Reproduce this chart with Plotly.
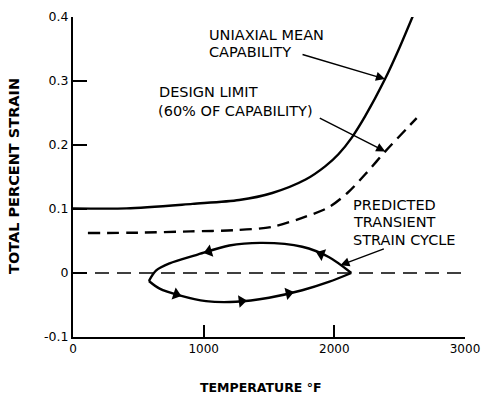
import numpy as np
import plotly.graph_objects as go

# ---------------- data ----------------
temp_capability = [0, 411, 914, 1272, 1525, 1780, 1932, 2033, 2135, 2236, 2388, 2490, 2604]
strain_capability = [0.101, 0.101, 0.108, 0.114, 0.125, 0.146, 0.167, 0.186, 0.212, 0.245, 0.303, 0.348, 0.403]

temp_design = [114, 500, 900, 1250, 1520, 1780, 1960, 2100, 2240, 2390, 2630]
strain_design = [0.0625, 0.063, 0.065, 0.067, 0.072, 0.088, 0.103, 0.125, 0.155, 0.190, 0.242]

temp_zero = [0, 3000]
strain_zero = [0, 0]

# predicted transient strain cycle (upper branch: right -> left)
temp_cycle_upper = [2130, 1957, 1754, 1450, 1196, 942, 739, 637, 581]
strain_cycle_upper = [0.0, 0.025, 0.041, 0.047, 0.043, 0.028, 0.015, 0.004, -0.0125]
# lower branch: left -> right
temp_cycle_lower = [581, 663, 815, 1018, 1247, 1500, 1754, 1957, 2130]
strain_cycle_lower = [-0.0125, -0.0245, -0.035, -0.044, -0.045, -0.0386, -0.027, -0.014, 0.0]

x_tickvals = [0, 1000, 2000, 3000]
x_ticktext = ["0", "1000", "2000", "3000"]
y_tickvals = [-0.1, 0, 0.1, 0.2, 0.3, 0.4]
y_ticktext = ["-0.1", "0", "0.1", "0.2", "0.3", "0.4"]

# ---------------- layout constants ----------------
W, H = 481, 397
L, R, T, B = 73, 16, 17, 60
PW, PH = W - L - R, H - T - B
FONT = "DejaVu Sans"


def px_x(x):
    return (x - L) / PW


def px_y(y):
    return (H - B - y) / PH


LW = 2.4
fig = go.Figure()

fig.add_trace(go.Scatter(x=temp_zero, y=strain_zero, mode="lines",
                         line=dict(color="black", width=1.3, dash="14px,8px")))
fig.add_trace(go.Scatter(x=temp_capability, y=strain_capability, mode="lines",
                         line=dict(color="black", width=LW, shape="spline", smoothing=0.8)))
fig.add_trace(go.Scatter(x=temp_design, y=strain_design, mode="lines",
                         line=dict(color="black", width=LW, dash="12px,7px", shape="spline", smoothing=0.8)))
fig.add_trace(go.Scatter(x=temp_cycle_upper, y=strain_cycle_upper, mode="lines",
                         line=dict(color="black", width=LW, shape="spline", smoothing=0.9)))
fig.add_trace(go.Scatter(x=temp_cycle_lower, y=strain_cycle_lower, mode="lines",
                         line=dict(color="black", width=LW, shape="spline", smoothing=0.9)))

# arrowheads along the cycle (positions along each branch, in temperature)
arrow_T_upper = [1900, 1040]
arrow_T_lower = [790, 1290, 1650]
up_T = temp_cycle_upper[::-1]
up_S = strain_cycle_upper[::-1]
ax_pts, ay_pts, sizes = [], [], []
for t in arrow_T_upper:
    t0 = t + 40
    ax_pts += [t0, t]
    ay_pts += [float(np.interp(t0, up_T, up_S)), float(np.interp(t, up_T, up_S))]
    sizes += [0, 11]
for t in arrow_T_lower:
    t0 = t - 40
    ax_pts += [t0, t]
    ay_pts += [float(np.interp(t0, temp_cycle_lower, strain_cycle_lower)),
               float(np.interp(t, temp_cycle_lower, strain_cycle_lower))]
    sizes += [0, 11]
fig.add_trace(go.Scatter(x=ax_pts, y=ay_pts, mode="markers",
                         marker=dict(symbol="triangle-up", size=sizes, color="black", opacity=1,
                                     angleref="previous", line=dict(width=0))))

# ---------------- callout arrows ----------------
t1 = 2388
fig.add_annotation(x=t1, y=float(np.interp(t1, temp_capability, strain_capability)),
                   ax=-84, ay=-25, text="", showarrow=True, arrowhead=2, arrowsize=1.3,
                   arrowwidth=1.4, arrowcolor="black")
t2 = 2390
fig.add_annotation(x=t2, y=float(np.interp(t2, temp_design, strain_design)),
                   ax=-67, ay=-34, text="", showarrow=True, arrowhead=2, arrowsize=1.3,
                   arrowwidth=1.4, arrowcolor="black")
t3 = 2046
fig.add_annotation(x=t3, y=float(np.interp(t3, up_T, up_S)),
                   ax=45, ay=-17, text="", showarrow=True, arrowhead=2, arrowsize=1.3,
                   arrowwidth=1.4, arrowcolor="black")

# ---------------- labels ----------------
labels = [
    ("UNIAXIAL MEAN", 207, 35),
    ("CAPABILITY", 207, 52),
    ("DESIGN LIMIT", 157, 92),
    ("(60% OF CAPABILITY)", 156, 111),
    ("PREDICTED", 351, 205),
    ("TRANSIENT", 351, 222),
    ("STRAIN CYCLE", 351, 239.5),
]
for txt, x, y in labels:
    fig.add_annotation(x=px_x(x), y=px_y(y), xref="paper", yref="paper", text=txt,
                       showarrow=False, xanchor="left", yanchor="middle",
                       font=dict(family=FONT, size=14.5, color="black"))

# axis titles
fig.add_annotation(x=px_x(198), y=px_y(387), xref="paper", yref="paper",
                   text="TEMPERATURE °F", showarrow=False, xanchor="left", yanchor="middle",
                   font=dict(family=FONT, size=12.5, color="black", weight="bold"))
fig.add_annotation(x=px_x(14), y=px_y(176), xref="paper", yref="paper",
                   text="TOTAL PERCENT STRAIN", showarrow=False, textangle=-90,
                   xanchor="center", yanchor="middle",
                   font=dict(family=FONT, size=14.5, color="black", weight="bold"))

fig.update_layout(
    width=W, height=H,
    margin=dict(l=L, r=R, t=T, b=B, pad=0, autoexpand=False),
    paper_bgcolor="white", plot_bgcolor="white",
    showlegend=False,
    xaxis=dict(range=[0, 3000], tickvals=x_tickvals, ticktext=x_ticktext,
               showgrid=False, zeroline=False, showline=True, linecolor="black", linewidth=2,
               ticks="inside", ticklen=12, tickwidth=2, tickcolor="black",
               ticklabeloverflow="allow", automargin=False,
               tickfont=dict(family=FONT, size=12, color="black")),
    yaxis=dict(range=[-0.1, 0.4], tickvals=y_tickvals, ticktext=y_ticktext,
               showgrid=False, zeroline=False, showline=True, linecolor="black", linewidth=2,
               ticks="inside", ticklen=14, tickwidth=2, tickcolor="black",
               automargin=False,
               tickfont=dict(family=FONT, size=12.5, color="black")),
)

fig.write_html("out.html")
